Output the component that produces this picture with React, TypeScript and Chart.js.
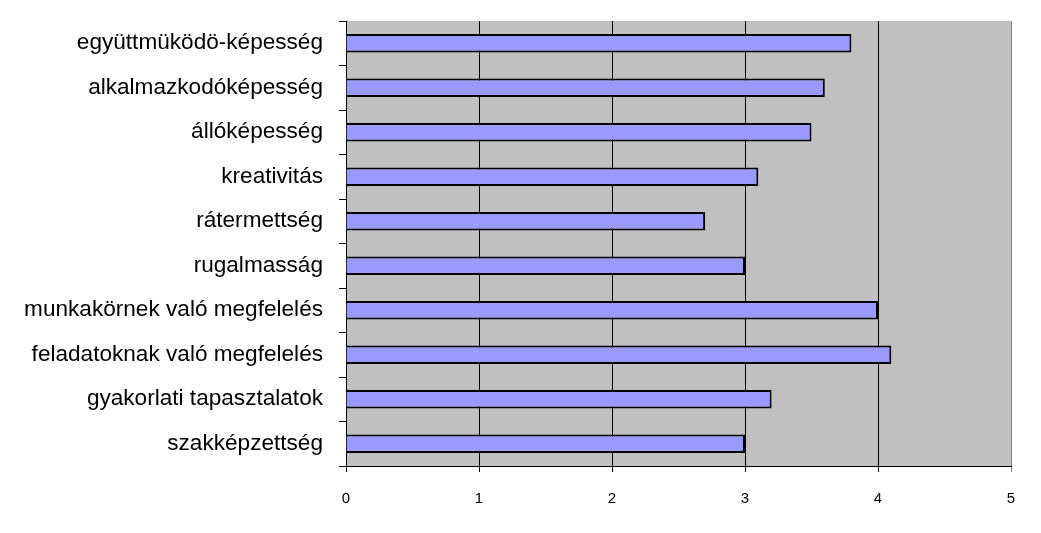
import React, { useEffect, useRef } from "react";
import { Chart, registerables } from "chart.js";

Chart.register(...registerables);

const categories = [
  "együttmüködö-képesség",
  "alkalmazkodóképesség",
  "állóképesség",
  "kreativitás",
  "rátermettség",
  "rugalmasság",
  "munkakörnek való megfelelés",
  "feladatoknak való megfelelés",
  "gyakorlati tapasztalatok",
  "szakképzettség",
];
const values = [3.8, 3.6, 3.5, 3.1, 2.7, 3.0, 4.0, 4.1, 3.2, 3.0];
const xTicks = [0, 1, 2, 3, 4, 5];

const bgPlugin = {
  id: "plotBg",
  beforeDraw(chart: any) {
    const { ctx, chartArea } = chart;
    if (!chartArea) return;
    ctx.save();
    ctx.fillStyle = "#C0C0C0";
    ctx.fillRect(chartArea.left, chartArea.top, chartArea.right - chartArea.left, chartArea.bottom - chartArea.top);
    ctx.restore();
  },
  afterDatasetsDraw(chart: any) {
    const { ctx, chartArea } = chart;
    ctx.save();
    ctx.strokeStyle = "#808080";
    ctx.lineWidth = 1;
    ctx.beginPath();
    ctx.moveTo(chartArea.right + 0.5, chartArea.top);
    ctx.lineTo(chartArea.right + 0.5, chartArea.bottom);
    ctx.stroke();
    ctx.restore();
  },
};

export default function App() {
  const ref = useRef<HTMLCanvasElement>(null);
  useEffect(() => {
    if (!ref.current) return;
    const chart = new Chart(ref.current, {
      type: "bar",
      data: {
        labels: categories,
        datasets: [
          {
            data: values,
            backgroundColor: "#9999FF",
            borderColor: "#000000",
            borderWidth: 2,
            barPercentage: 0.8,
            categoryPercentage: 0.52,
          },
        ],
      },
      options: {
        indexAxis: "y",
        animation: false,
        responsive: false,
        maintainAspectRatio: false,
        layout: { padding: { top: 21, right: 30, left: 0, bottom: 0 } },
        plugins: { legend: { display: false }, tooltip: { enabled: false } },
        scales: {
          x: {
            min: 0,
            max: 5,
            afterBuildTicks: (s: any) => {
              s.ticks = xTicks.map((v) => ({ value: v }));
            },
            afterFit: (s: any) => {
              s.height = 67;
            },
            grid: {
              color: (c: any) => (c.tick && c.tick.value === 5 ? "#808080" : "#000000"),
              lineWidth: 1,
              tickLength: 6,
              drawTicks: true,
            },
            border: { color: "#000000", width: 1 },
            ticks: {
              color: "#000000",
              font: { family: "Liberation Sans, Arial, sans-serif", size: 15 },
              padding: 18,
            },
          },
          y: {
            afterFit: (s: any) => {
              s.width = 346;
              s.paddingTop = 0;
              s.paddingBottom = 0;
            },
            grid: {
              offset: true,
              drawOnChartArea: false,
              color: "#000000",
              tickLength: 7,
            },
            border: { color: "#000000", width: 1 },
            ticks: {
              color: "#000000",
              font: { family: "Liberation Sans, Arial, sans-serif", size: 22.6 },
              padding: 16,
              autoSkip: false,
            },
          },
        },
      },
      plugins: [bgPlugin],
    });
    return () => chart.destroy();
  }, []);
  return (
    <div style={{ position: "absolute", left: 0, top: 0, width: 1041, height: 533, background: "#fff" }}>
      <canvas ref={ref} width={1041} height={533} style={{ display: "block" }} />
    </div>
  );
}
